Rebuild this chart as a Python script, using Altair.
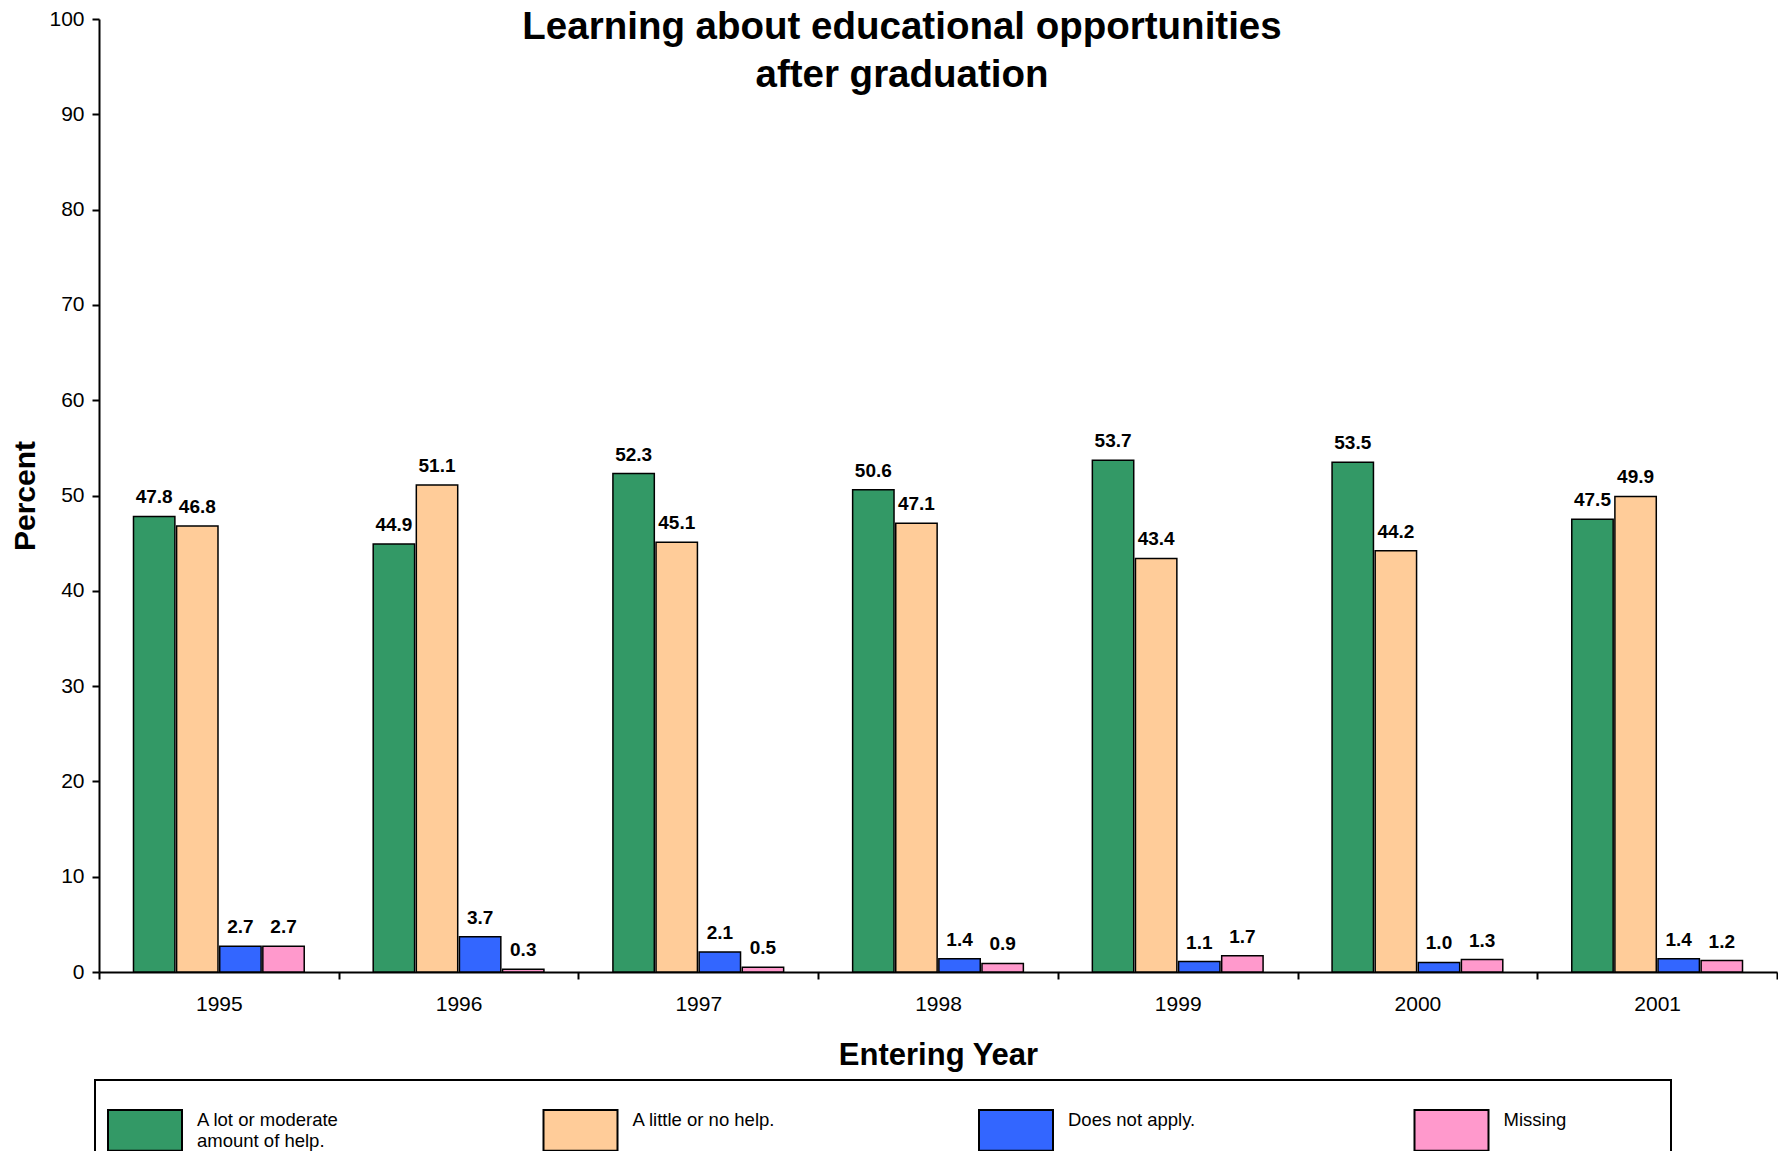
import altair as alt
import pandas as pd

years = ["1995", "1996", "1997", "1998", "1999", "2000", "2001"]
categories = ["A lot or moderate amount of help.", "A little or no help.", "Does not apply.", "Missing"]
lot_help = [47.8, 44.9, 52.3, 50.6, 53.7, 53.5, 47.5]
little_help = [46.8, 51.1, 45.1, 47.1, 43.4, 44.2, 49.9]
not_apply = [2.7, 3.7, 2.1, 1.4, 1.1, 1.0, 1.4]
missing = [2.7, 0.3, 0.5, 0.9, 1.7, 1.3, 1.2]
colors = ["#339966", "#FFCC99", "#3366FF", "#FF99CC"]
y_ticks = [0, 10, 20, 30, 40, 50, 60, 70, 80, 90, 100]

rows = []
for name, vals in zip(categories, [lot_help, little_help, not_apply, missing]):
    for yr, v in zip(years, vals):
        rows.append({"year": yr, "series": name, "value": v})
df = pd.DataFrame(rows)

FONT = "Liberation Sans"
NBSP = "\u00a0"
ZWSP = "\u200b"

label_expr = (
    "datum.label == 'A lot or moderate amount of help.' ? ['A lot or moderate', 'amount of help.'] : "
    "datum.label == 'Missing' ? 'Missing" + NBSP * 18 + ZWSP + "' : datum.label"
)

x_enc = alt.X(
    "year:N", sort=years,
    scale=alt.Scale(paddingInner=0, paddingOuter=0),
    axis=alt.Axis(
        title="Entering Year", labelAngle=0, tickBand="extent",
        labelFontSize=21, labelFont=FONT, labelColor="black", labelPadding=14,
        titleFontSize=31, titleFont=FONT, titleFontWeight="bold", titleColor="black",
        titlePadding=26, tickSize=7, tickWidth=2, tickColor="black",
        domainColor="black", domainWidth=2,
    ),
)
xoff_enc = alt.XOffset(
    "series:N", sort=categories,
    scale=alt.Scale(paddingInner=0.04, paddingOuter=0.8),
)
y_enc = alt.Y(
    "value:Q",
    scale=alt.Scale(domain=[0, 100], nice=False),
    axis=alt.Axis(
        title="Percent", values=y_ticks, grid=False,
        labelFontSize=21, labelFont=FONT, labelColor="black", labelPadding=8,
        titleFontSize=30, titleFont=FONT, titleFontWeight="bold", titleColor="black",
        titlePadding=8, tickSize=7, tickWidth=2, tickColor="black",
        domainColor="black", domainWidth=2,
    ),
)

color_enc = alt.Color(
    "series:N", sort=categories,
    scale=alt.Scale(domain=categories, range=colors),
    legend=alt.Legend(
        title=None, orient="none", legendX=-4, legendY=1061,
        direction="horizontal", columns=4, gridAlign="all", columnPadding=186.5,
        symbolType="M-1,-0.55H1V0.55H-1Z", symbolSize=5476,
        symbolStrokeColor="black", symbolStrokeWidth=2, symbolOpacity=1,
        labelFontSize=18.5, labelFont=FONT, labelColor="black", labelOffset=14,
        labelLimit=400, labelBaseline="bottom",
        labelExpr=label_expr,
        padding=12, strokeColor="black",
    ),
)

bars = alt.Chart(df).mark_bar(stroke="black", strokeWidth=1.5).encode(
    x=x_enc, xOffset=xoff_enc, y=y_enc, color=color_enc,
)

labels = alt.Chart(df).mark_text(
    dy=-13, baseline="alphabetic", fontWeight="bold", fontSize=19, font=FONT, color="black",
).encode(
    x=x_enc, xOffset=xoff_enc, y=y_enc, text=alt.Text("value:Q", format=".1f"),
)

chart = alt.layer(bars, labels).properties(
    width=1678, height=953,
    title=alt.TitleParams(
        ["Learning about educational opportunities", "after graduation"],
        fontSize=38.5, fontWeight="bold", font=FONT, color="black",
        anchor="middle", frame="group", dx=-36, offset=-117,
        baseline="alphabetic", lineHeight=48,
    ),
    autosize=alt.AutoSizeParams(type="none"),
    padding={"left": 91, "top": 11, "right": 1, "bottom": 179},
).configure_view(stroke=None).configure_legend(strokeWidth=2)

chart.save("out.html", embed_options={"renderer": "svg", "actions": False})
